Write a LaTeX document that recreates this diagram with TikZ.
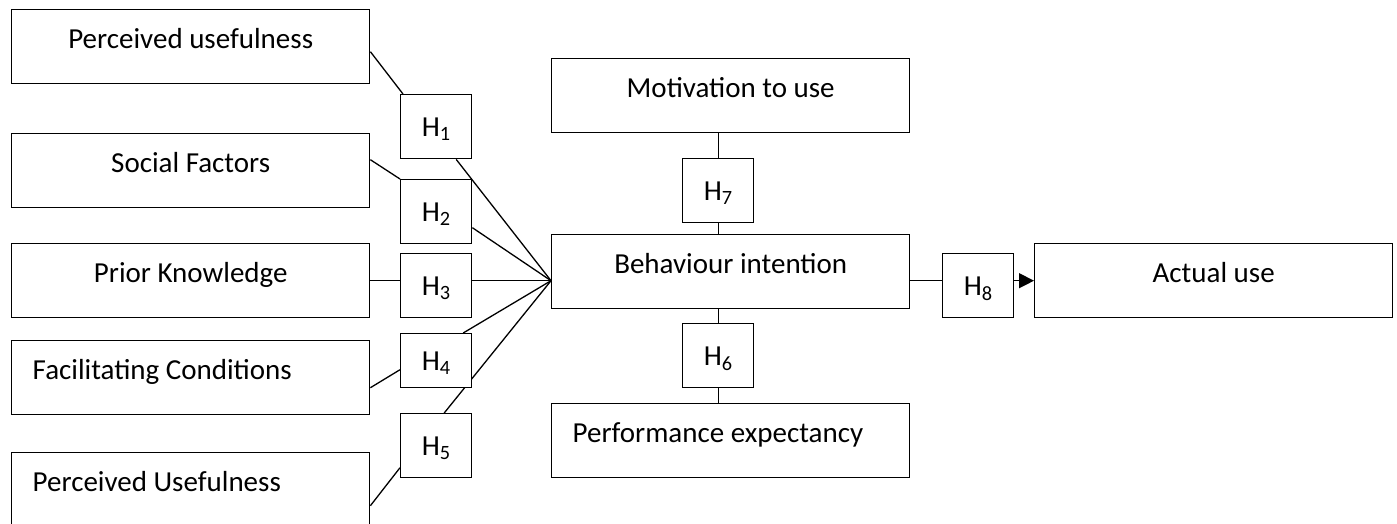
\documentclass[tikz,border=0pt]{standalone}
\usepackage{fontspec}
\setmainfont{Carlito}
\usetikzlibrary{arrows.meta,backgrounds}
\tikzset{
	factor/.style={draw, fill=white, line width=1.4pt, minimum width=358pt, minimum height=74pt, inner sep=0pt, text height=22pt, text depth=18pt, font=\fontsize{29}{34}\selectfont},
	leftfactor/.style={factor, text width=316pt, align=flush left},
	hyp/.style={draw, fill=white, line width=1.4pt, minimum width=71pt, minimum height=64pt, inner sep=0pt, text height=19pt, text depth=0pt, font=\fontsize{29}{34}\selectfont},
	link/.style={line width=1.3pt},
}

\begin{document}
\begin{tikzpicture}[x=1pt, y=-1pt]
			%%%%% START %%%%%
			\clip (0, 0) rectangle (1397, 523);
			
			% factors on the left
			\node[factor, anchor=north west] (pu) at (11, 9) {Perceived usefulness};
			\node[factor, anchor=north west] (sf) at (11, 133) {Social Factors};
			\node[factor, anchor=north west] (pk) at (11, 243) {Prior Knowledge};
			\node[leftfactor, anchor=north west] (fc) at (11, 340) {Facilitating Conditions};
			\node[leftfactor, anchor=north west] (pu2) at (11, 452) {Perceived Usefulness};
			
			% hypotheses
			\node[hyp, anchor=north west] (h1) at (400, 94) {H\textsubscript{1}};
			\node[hyp, anchor=north west] (h2) at (400, 179) {H\textsubscript{2}};
			\node[hyp, anchor=north west] (h3) at (400, 253) {H\textsubscript{3}};
			\node[hyp, anchor=north west, minimum height=54pt] (h4) at (400, 333) {H\textsubscript{4}};
			\node[hyp, anchor=north west] (h5) at (400, 413) {H\textsubscript{5}};
			
			% middle column
			\node[factor, anchor=north west] (mot) at (551, 58) {Motivation to use};
			\node[hyp, anchor=north west] (h7) at (682, 158) {H\textsubscript{7}};
			\node[factor, anchor=north west] (bi) at (551, 234) {Behaviour intention};
			\node[hyp, anchor=north west] (h6) at (682, 323) {H\textsubscript{6}};
			\node[leftfactor, anchor=north west] (pe) at (551, 403) {Performance expectancy};
			
			% right
			\node[hyp, anchor=north west] (h8) at (942, 253) {H\textsubscript{8}};
			\node[factor, anchor=north west] (au) at (1034, 243) {Actual use};
			
			\coordinate (hub) at ([yshift=-9pt]bi.west);
			\coordinate (bo) at ([yshift=-9pt]bi.east);
			
			\begin{scope}[on background layer]
				\draw[link] ([yshift=-5pt]pu.east) -- ([xshift=3pt]h1.north west);
				\draw[link] ([yshift=11pt]sf.east) -- (h2.north west);
				\draw[link] (pk.east) -- (pk.east -| h3.west);
				\draw[link] ([yshift=-10pt]fc.east) -- ([yshift=-9pt]h4.west);
				\draw[link] ([yshift=-16pt]pu2.east) -- ([yshift=-22pt]h5.west);
				
				\draw[link] ([xshift=20pt]h1.south) -- (hub);
				\draw[link] ([yshift=-16pt]h2.east) -- (hub);
				\draw[link] (hub -| h3.east) -- (hub);
				\draw[link] ([xshift=27pt]h4.north) -- (hub);
				\draw[link] ([xshift=8pt]h5.north) -- (hub);
				
				\draw[link] (h7.north) -- (h7.north |- mot.south);
				\draw[link] (h7.south) -- (h7.south |- bi.north);
				\draw[link] (h6.north) -- (h6.north |- bi.south);
				\draw[link] (h6.south) -- (h6.south |- pe.north);
				
				\draw[link] (bo) -- (bo -| h8.west);
			\end{scope}
			\draw[link, -{Triangle[length=15pt, width=15pt]}] (bo -| h8.east) -- (bo -| au.west);
			
			%%%%% END %%%%%
\end{tikzpicture}
\end{document}
